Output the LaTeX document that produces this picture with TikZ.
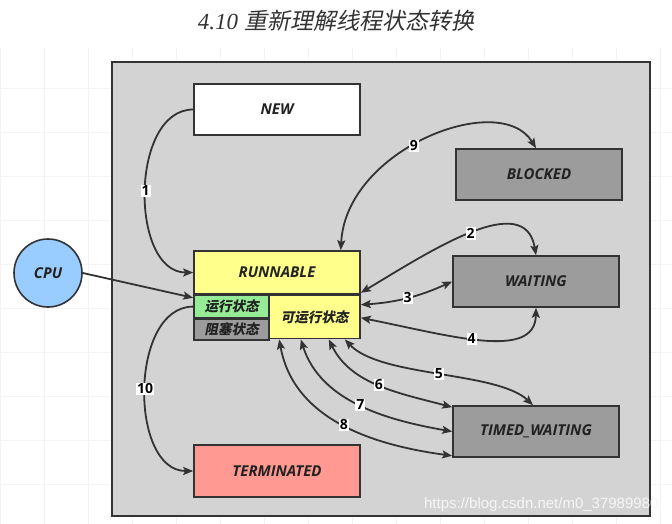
\documentclass[tikz,border=0pt]{standalone}
\usepackage{fontspec}
\setmainfont{Open Sans}
\newfontfamily\cjkfont{Noto Sans CJK SC}[FakeSlant=0.2]
\newfontfamily\titlefont{Liberation Serif}
\newfontfamily\markfont{Liberation Sans}
\usetikzlibrary{positioning,arrows.meta}
\definecolor{panelfill}{RGB}{211,211,211}
\definecolor{linedark}{RGB}{51,51,51}
\definecolor{runfill}{RGB}{255,255,140}
\definecolor{runningfill}{RGB}{150,236,150}
\definecolor{statefill}{RGB}{156,156,156}
\definecolor{termfill}{RGB}{255,153,146}
\definecolor{cpufill}{RGB}{153,204,255}
\definecolor{textdark}{RGB}{34,34,34}
\definecolor{gridline}{RGB}{244,244,244}
\definecolor{markgray}{RGB}{246,246,246}

\begin{document}
\begin{tikzpicture}[
  x=1pt,y=-1pt,
  >={Stealth[length=10pt,width=8pt,inset=2pt]},
  state/.style={draw=linedark,line width=1.6pt,minimum width=166pt,minimum height=51pt,
                inner sep=0pt,font=\bfseries\itshape\fontsize{15}{17}\selectfont,text=textdark},
  sub/.style={state,font=\cjkfont\bfseries\fontsize{13.5}{15}\selectfont},
  tr/.style={draw=linedark,line width=1.8pt},
  num/.style={fill=white,inner sep=1pt,font=\bfseries\fontsize{14}{14}\selectfont,text=black}
]
\useasboundingbox[fill=white] (0,0) rectangle (672,524);
\draw[gridline,line width=0.6pt,step=44pt] (0,48) grid (672,524);

\node[font=\fontsize{23}{26}\selectfont,text=linedark] (title) at (336,21)
  {{\titlefont\itshape 4.10} {\cjkfont 重新理解线程状态转换}};

\node[draw=linedark,line width=1.6pt,fill=panelfill,minimum width=538pt,minimum height=454pt] (panel) at (381,289) {};

\node[state,fill=white] (new) at (277,109.5) {NEW};
\node[state,fill=runfill,minimum height=43pt] (run) at (277,272.5) {RUNNABLE};
\node[sub,fill=runningfill,minimum width=75pt,minimum height=22pt,below right=0pt and 0pt of run.south west] (running) {运行状态};
\node[sub,fill=statefill,minimum width=75pt,minimum height=21pt,below=0pt of running] (stuck) {阻塞状态};
\node[sub,fill=runfill,minimum width=91pt,minimum height=43pt,below left=0pt and 0pt of run.south east] (ready) {可运行状态};
\node[state,fill=statefill] (blocked) at (539,174.5) {BLOCKED};
\node[state,fill=statefill] (wait) at (536,281.5) {WAITING};
\node[state,fill=statefill] (timed) at (536,431.5) {TIMED\_WAITING};
\node[state,fill=termfill,minimum height=52pt] (term) at (277,471) {TERMINATED};
\node[state,circle,fill=cpufill,minimum size=68pt,minimum width=68pt] (cpu) at (48,273) {CPU};

\draw[tr,->] (new.west) to[out=180,in=180] node[num]{1} (run.west);
\draw[tr,->] (cpu.east) -- ([yshift=-3pt]running.north west);
\draw[tr,<->] ([xshift=-20pt]run.north east) .. controls +(5,-101) and +(-36,-59) .. ([xshift=-3pt]blocked.north) node[num,pos=0.45]{9};
\draw[tr,<->] ([yshift=2pt]run.south east) .. controls +(70,-42) and +(-11,-66) .. (wait.north) node[num,pos=0.5]{2};
\draw[tr,<->] ([yshift=-10pt]ready.north east) to[bend right=10] node[num]{3} (wait.west);
\draw[tr,<->] ([yshift=-23pt]ready.north east) .. controls +(90,18) and +(-1,53) .. (wait.south) node[num,pos=0.45]{4};
\draw[tr,<->] ([xshift=-16pt]ready.south east) .. controls +(36,38) and +(-36,-34) .. ([xshift=-3pt]timed.north) node[num,pos=0.5]{5};
\draw[tr,<->] ([xshift=-32pt]ready.south east) .. controls +(22,45) and +(-53,-14) .. ([yshift=-2pt]timed.north west) node[num,pos=0.5]{6};
\draw[tr,<->] ([xshift=-60pt]ready.south east) .. controls +(20,63) and +(-63,-11) .. (timed.west) node[num,pos=0.5]{7};
\draw[tr,<->] ([xshift=11pt]ready.south west) .. controls +(15,83) and +(-73,-10) .. ([yshift=2pt]timed.south west) node[num,pos=0.5]{8};
\draw[tr,->] (running.west) to[out=180,in=180] node[num]{10} (term.west);

\node[font=\markfont\fontsize{15}{15}\selectfont,text=markgray,anchor=east] (mark) at (662,505) {https://blog.csdn.net/m0\_37989980};
\end{tikzpicture}
\end{document}
